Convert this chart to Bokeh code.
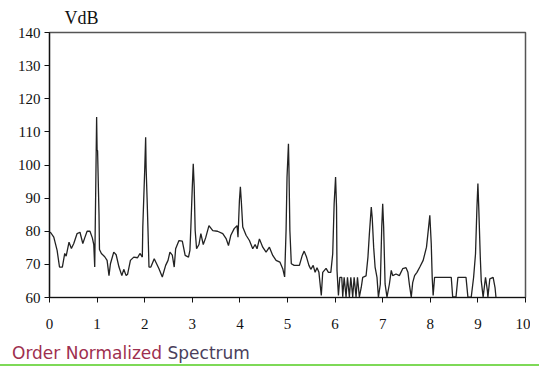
from bokeh.plotting import figure
from bokeh.models import Range1d, FixedTicker, Title, Div, Column
from bokeh.embed import file_html
from bokeh.resources import INLINE

order = [0.00, 0.02, 0.09, 0.16, 0.21, 0.27, 0.32, 0.35, 0.41, 0.46, 0.51, 0.58, 0.64, 0.70, 0.74, 0.79,
         0.85, 0.90, 0.93, 0.95, 0.97, 0.99, 1.00, 1.01, 1.03, 1.04, 1.05, 1.09, 1.16, 1.21, 1.25, 1.28,
         1.35, 1.40, 1.46, 1.52, 1.56, 1.61, 1.64, 1.70, 1.77, 1.85, 1.90, 1.95, 1.96, 2.00, 2.02, 2.03,
         2.05, 2.07, 2.09, 2.13, 2.20, 2.25, 2.30, 2.37, 2.44, 2.49, 2.53, 2.58, 2.62, 2.65, 2.72, 2.79,
         2.85, 2.92, 2.95, 2.97, 3.00, 3.02, 3.04, 3.06, 3.09, 3.14, 3.18, 3.23, 3.28, 3.35, 3.43, 3.53,
         3.64, 3.71, 3.76, 3.81, 3.88, 3.94, 3.96, 3.99, 4.01, 4.03, 4.06, 4.13, 4.20, 4.27, 4.32, 4.36,
         4.41, 4.48, 4.55, 4.62, 4.69, 4.76, 4.84, 4.90, 4.94, 4.97, 4.99, 5.02, 5.03, 5.05, 5.08, 5.14,
         5.25, 5.31, 5.35, 5.40, 5.45, 5.49, 5.54, 5.58, 5.62, 5.66, 5.71, 5.74, 5.81, 5.86, 5.91, 5.95,
         5.98, 6.01, 6.03, 6.04, 6.07, 6.10, 6.14, 6.16, 6.19, 6.23, 6.26, 6.30, 6.33, 6.37, 6.40, 6.44,
         6.47, 6.51, 6.55, 6.58, 6.65, 6.69, 6.72, 6.76, 6.78, 6.81, 6.84, 6.88, 6.91, 6.95, 6.98, 7.00,
         7.02, 7.05, 7.09, 7.14, 7.18, 7.21, 7.28, 7.35, 7.42, 7.49, 7.53, 7.56, 7.60, 7.63, 7.67, 7.72,
         7.78, 7.85, 7.92, 7.95, 7.99, 8.02, 8.04, 8.06, 8.09, 8.44, 8.47, 8.54, 8.58, 8.75, 8.79, 8.86,
         8.91, 8.95, 8.98, 9.00, 9.02, 9.05, 9.07, 9.11, 9.16, 9.20, 9.21, 9.25, 9.32, 9.36, 9.38]

vdb = [79.5, 79.7, 78.2, 74.2, 69.2, 69.2, 73.3, 72.5, 76.7, 74.8, 76.3, 79.3, 79.7, 76.3, 78.0, 80.0,
       80.0, 78.0, 76.0, 69.2, 91.4, 114.5, 104.4, 104.4, 91.4, 85.3, 74.5, 73.3, 72.3, 71.2, 66.6, 70.2,
       73.7, 72.9, 69.2, 66.6, 68.5, 66.6, 67.0, 71.2, 72.2, 72.0, 73.3, 72.2, 81.3, 98.4, 108.4, 99.0,
       90.0, 80.0, 69.2, 69.2, 71.7, 70.2, 68.7, 66.2, 69.7, 71.2, 73.7, 72.8, 69.2, 74.7, 77.2, 77.0,
       72.7, 72.2, 74.2, 81.3, 93.4, 100.4, 93.4, 80.3, 74.7, 76.0, 79.3, 76.0, 78.0, 81.7, 80.2, 80.0,
       79.3, 77.8, 75.7, 78.8, 80.8, 81.7, 78.2, 89.3, 93.4, 89.0, 81.3, 78.8, 77.2, 74.7, 76.0, 74.7,
       77.7, 75.2, 73.7, 75.2, 72.7, 71.2, 70.7, 68.7, 66.2, 80.2, 96.3, 106.4, 99.4, 80.2, 70.2, 69.7,
       69.7, 72.7, 74.0, 72.2, 69.7, 68.5, 69.7, 67.6, 69.0, 67.6, 60.6, 67.6, 68.8, 67.6, 67.6, 73.2,
       88.3, 96.4, 87.3, 68.2, 60.6, 66.1, 66.1, 60.2, 66.1, 60.2, 66.1, 60.2, 66.1, 60.2, 66.1, 60.2,
       66.1, 60.2, 63.1, 66.1, 66.5, 72.2, 79.2, 87.3, 84.0, 75.2, 69.2, 66.1, 60.1, 64.0, 81.3, 88.3,
       81.3, 64.1, 60.1, 64.0, 68.2, 66.6, 67.1, 66.6, 68.7, 69.0, 67.6, 64.0, 60.1, 64.5, 66.6, 67.6,
       69.2, 71.2, 75.2, 79.3, 84.8, 76.2, 66.0, 60.6, 66.1, 66.1, 60.2, 60.2, 66.1, 66.1, 60.1, 60.1,
       66.1, 73.2, 87.3, 94.4, 86.3, 72.2, 65.1, 60.1, 66.1, 62.0, 60.1, 65.6, 66.1, 63.0, 60.0]

x_ticks = [0, 1, 2, 3, 4, 5, 6, 7, 8, 9, 10]
y_ticks = [60, 70, 80, 90, 100, 110, 120, 130, 140]

p = figure(width=530, height=338, output_backend="svg", toolbar_location=None,
           x_range=Range1d(0, 10), y_range=Range1d(60, 140),
           min_border_left=49, min_border_right=5, min_border_top=32, min_border_bottom=41)

p.line(order, vdb, line_color="#222222", line_width=1.3)

t = Title(text="VdB", align="left", offset=15, text_font="Liberation Serif",
          text_font_size="18px", text_font_style="normal", text_color="#111111")
p.add_layout(t, "above")

p.xgrid.visible = False
p.ygrid.visible = False
p.outline_line_color = "#555555"
p.outline_line_width = 1.5

for ax in (p.xaxis[0], p.yaxis[0]):
    ax.axis_line_color = "#111111"
    ax.axis_line_width = 1.2
    ax.major_tick_line_color = "#111111"
    ax.major_tick_in = 0
    ax.major_tick_out = 5
    ax.minor_tick_line_color = None
    ax.major_label_text_font = "Liberation Serif"
    ax.major_label_text_font_size = "15px"
    ax.major_label_text_color = "#111111"

p.xaxis[0].ticker = FixedTicker(ticks=x_ticks)
p.yaxis[0].ticker = FixedTicker(ticks=y_ticks)
p.xaxis[0].major_label_standoff = 16
p.yaxis[0].major_label_standoff = 4

caption = Div(text='<span style="color:#9e2f4f">Order Normalized</span> '
                   '<span style="color:#4b3f5c">Spectrum</span>',
              styles={"font-family": "DejaVu Sans", "font-size": "17px", "line-height": "20px"},
              width=320, height=20, margin=(5, 0, 0, 12))
green = Div(text="", width=539, height=2, margin=(1, 0, 0, 0),
            styles={"background-color": "#7ed957"})

layout = Column(p, caption, green, spacing=0)

open("out.html", "w").write(file_html(layout, INLINE))
